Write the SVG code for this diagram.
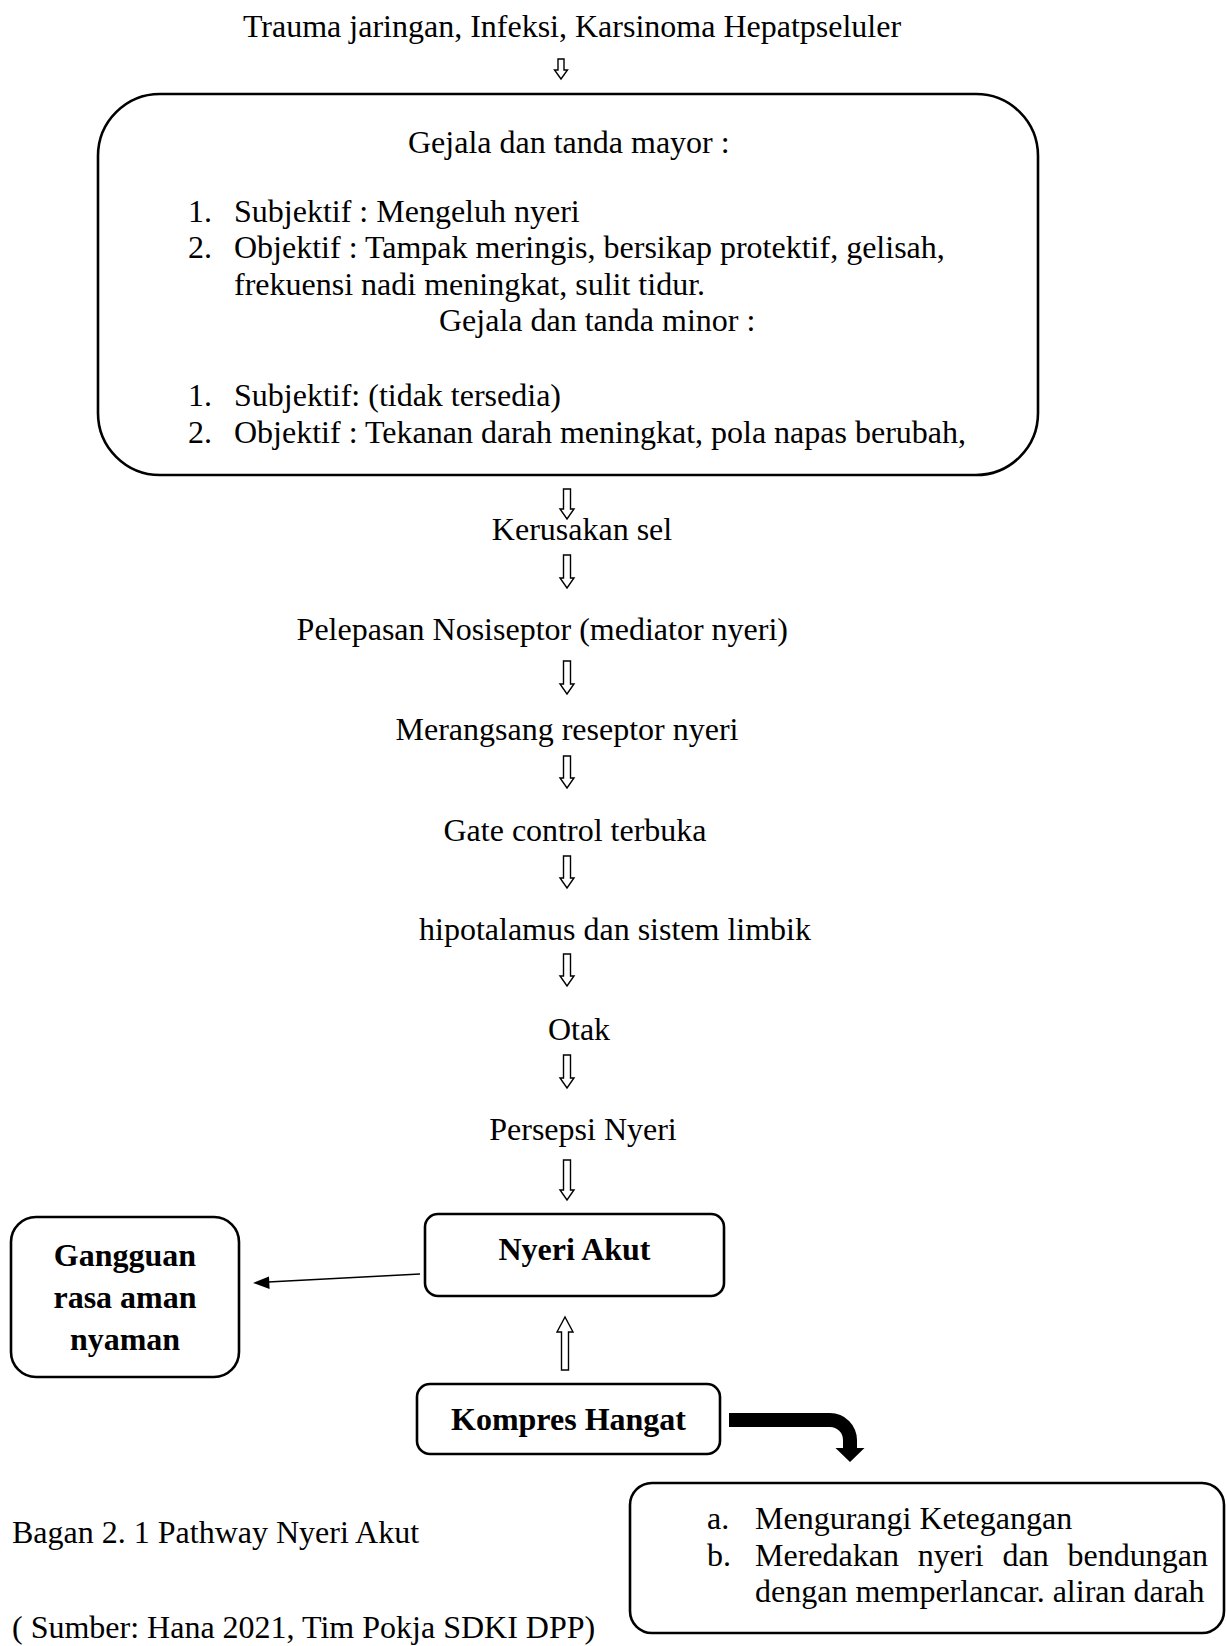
<svg xmlns="http://www.w3.org/2000/svg" width="1226" height="1646" viewBox="0 0 1226 1646">
<style>
.t{font-family:"Liberation Serif","Times New Roman",serif;font-size:32px;fill:#000}
.b{font-weight:bold}
.m{text-anchor:middle}
.box{fill:none;stroke:#000;stroke-width:2.6}
.ha{fill:#fff;stroke:#000;stroke-width:1.4}
</style>
<rect width="1226" height="1646" fill="#fff"/>
<g id="connectors">
<path class="ha" d="M558 59 H564 V70 H567.5 L561 79 L554.5 70 H558 Z"/>
<path class="ha" d="M563.5 489 H570.5 V509 H574 L567 519 L560 509 H563.5 Z"/>
<path class="ha" d="M563.5 555 H570.5 V578 H574 L567 588 L560 578 H563.5 Z"/>
<path class="ha" d="M563.5 661 H570.5 V684 H574 L567 694 L560 684 H563.5 Z"/>
<path class="ha" d="M563.5 756 H570.5 V778 H574 L567 788 L560 778 H563.5 Z"/>
<path class="ha" d="M563.5 856 H570.5 V878 H574 L567 888 L560 878 H563.5 Z"/>
<path class="ha" d="M563.5 954 H570.5 V976 H574 L567 986 L560 976 H563.5 Z"/>
<path class="ha" d="M563.5 1055 H570.5 V1078 H574 L567 1088 L560 1078 H563.5 Z"/>
<path class="ha" d="M563.5 1160 H570.5 V1190 H574 L567 1200 L560 1190 H563.5 Z"/>
<path class="ha" d="M561.5 1370 H568.5 V1332 H573 L565 1317 L557 1332 H561.5 Z"/>
<line x1="420" y1="1274" x2="268" y2="1282" stroke="#000" stroke-width="1.6"/>
<path d="M253 1283 L269 1276.5 L269.6 1289 Z" fill="#000"/>
<path d="M729 1413 L830 1413 A27 27 0 0 1 857 1440 L857 1448 L864.5 1448 L850 1462 L835.5 1448 L843 1448 L843 1440 A13 13 0 0 0 830 1427 L729 1427 Z" fill="#000"/>
</g>
<g id="source">
<text class="t m" x="572" y="37">Trauma jaringan, Infeksi, Karsinoma Hepatpseluler</text>
</g>
<g id="gejala">
<rect class="box" x="98" y="94" width="940" height="381" rx="62" ry="62"/>
<text class="t" x="408" y="153">Gejala dan tanda mayor :</text>
<text class="t" x="188" y="222">1.</text><text class="t" x="234" y="222">Subjektif : Mengeluh nyeri</text>
<text class="t" x="188" y="258">2.</text><text class="t" x="234" y="258">Objektif : Tampak meringis, bersikap protektif, gelisah,</text>
<text class="t" x="234" y="295">frekuensi nadi meningkat, sulit tidur.</text>
<text class="t" x="439" y="331">Gejala dan tanda minor :</text>
<text class="t" x="188" y="406">1.</text><text class="t" x="234" y="406">Subjektif: (tidak tersedia)</text>
<text class="t" x="188" y="443">2.</text><text class="t" x="234" y="443">Objektif : Tekanan darah meningkat, pola napas berubah,</text>
</g>
<g id="kerusakan"><text class="t m" x="582" y="540">Kerusakan sel</text></g>
<g id="pelepasan"><text class="t" x="788" y="640" text-anchor="end">Pelepasan Nosiseptor (mediator nyeri)</text></g>
<g id="merangsang"><text class="t m" x="567" y="740">Merangsang reseptor nyeri</text></g>
<g id="gate"><text class="t m" x="575" y="841">Gate control terbuka</text></g>
<g id="hipotalamus"><text class="t m" x="615" y="940">hipotalamus dan sistem limbik</text></g>
<g id="otak"><text class="t m" x="579" y="1040">Otak</text></g>
<g id="persepsi"><text class="t m" x="583" y="1140">Persepsi Nyeri</text></g>
<g id="nyeri-akut">
<rect class="box" x="425" y="1214" width="299" height="82" rx="13" ry="13"/>
<text class="t b m" x="574.5" y="1260">Nyeri Akut</text>
</g>
<g id="gangguan">
<rect class="box" x="11" y="1217" width="228" height="160" rx="25" ry="25"/>
<text class="t b m" x="125" y="1266">Gangguan</text>
<text class="t b m" x="125" y="1308">rasa aman</text>
<text class="t b m" x="125" y="1350">nyaman</text>
</g>
<g id="kompres">
<rect class="box" x="417" y="1384" width="303" height="70" rx="13" ry="13"/>
<text class="t b m" x="568.5" y="1430">Kompres Hangat</text>
</g>
<g id="manfaat">
<rect class="box" x="630" y="1483" width="594" height="150" rx="22" ry="22"/>
<text class="t" x="707" y="1529">a.</text><text class="t" x="755" y="1529">Mengurangi Ketegangan</text>
<text class="t" x="707" y="1566">b.</text>
<text class="t" x="755" y="1566">Meredakan</text><text class="t" x="917.8" y="1566">nyeri</text><text class="t" x="1002.5" y="1566">dan</text><text class="t" x="1208" y="1566" text-anchor="end">bendungan</text>
<text class="t" x="755" y="1602">dengan memperlancar. aliran darah</text>
</g>
<g id="caption">
<text class="t" x="12" y="1543">Bagan 2. 1 Pathway Nyeri Akut</text>
<text class="t" x="12" y="1638">( Sumber: Hana 2021, Tim Pokja SDKI DPP)</text>
</g>
</svg>
